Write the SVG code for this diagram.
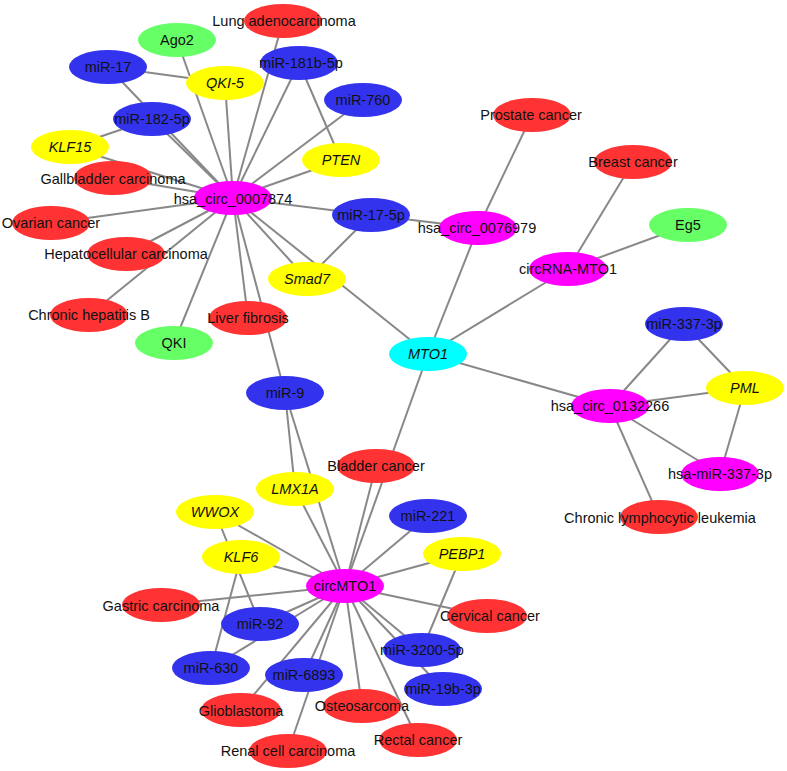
<svg xmlns="http://www.w3.org/2000/svg" width="787" height="771" viewBox="0 0 787 771">
<style>
.e{stroke:#888;stroke-width:2;fill:none}
ellipse{stroke:none}
.r{fill:#FF3333}.b{fill:#3333EE}.y{fill:#FFFF00}.g{fill:#66FF66}.m{fill:#FF00FF}.c{fill:#00FFFF}
text{font-family:"Liberation Sans",Arial,sans-serif;font-size:14.5px;fill:#111;text-anchor:middle}
.i{font-style:italic}
</style>
<rect width="787" height="771" fill="#fff"/>
<g id="edges" class="e">
<line x1="233" y1="198" x2="283" y2="21"/>
<line x1="233" y1="198" x2="177" y2="40"/>
<line x1="233" y1="198" x2="108" y2="67"/>
<line x1="108" y1="67" x2="225" y2="83"/>
<line x1="233" y1="198" x2="225" y2="83"/>
<line x1="233" y1="198" x2="299" y2="63"/>
<line x1="299" y1="63" x2="341" y2="160"/>
<line x1="233" y1="198" x2="363" y2="100"/>
<line x1="233" y1="198" x2="341" y2="160"/>
<line x1="233" y1="198" x2="152" y2="119"/>
<line x1="70" y1="147" x2="152" y2="119"/>
<line x1="233" y1="198" x2="70" y2="147"/>
<line x1="233" y1="198" x2="113" y2="178"/>
<line x1="233" y1="198" x2="51" y2="223"/>
<line x1="233" y1="198" x2="126" y2="254"/>
<line x1="233" y1="198" x2="89" y2="315"/>
<line x1="233" y1="198" x2="174" y2="343"/>
<line x1="233" y1="198" x2="248" y2="318"/>
<line x1="233" y1="198" x2="285" y2="393"/>
<line x1="233" y1="198" x2="307" y2="279"/>
<line x1="233" y1="198" x2="428" y2="354"/>
<line x1="233" y1="198" x2="371" y2="215"/>
<line x1="371" y1="215" x2="307" y2="279"/>
<line x1="371" y1="215" x2="478" y2="228"/>
<line x1="478" y1="228" x2="532" y2="115"/>
<line x1="478" y1="228" x2="428" y2="354"/>
<line x1="568" y1="269" x2="633" y2="162"/>
<line x1="568" y1="269" x2="688" y2="225"/>
<line x1="568" y1="269" x2="428" y2="354"/>
<line x1="428" y1="354" x2="610" y2="406"/>
<line x1="428" y1="354" x2="345" y2="586"/>
<line x1="610" y1="406" x2="684" y2="324"/>
<line x1="610" y1="406" x2="745" y2="388"/>
<line x1="610" y1="406" x2="720" y2="474"/>
<line x1="610" y1="406" x2="659" y2="517"/>
<line x1="684" y1="324" x2="745" y2="388"/>
<line x1="745" y1="388" x2="720" y2="474"/>
<line x1="285" y1="393" x2="295" y2="489"/>
<line x1="285" y1="393" x2="345" y2="586"/>
<line x1="295" y1="489" x2="345" y2="586"/>
<line x1="376" y1="466" x2="345" y2="586"/>
<line x1="215" y1="512" x2="345" y2="586"/>
<line x1="215" y1="512" x2="260" y2="624"/>
<line x1="241" y1="557" x2="211" y2="668"/>
<line x1="241" y1="557" x2="345" y2="586"/>
<line x1="428" y1="516" x2="345" y2="586"/>
<line x1="462" y1="554" x2="345" y2="586"/>
<line x1="462" y1="554" x2="422" y2="650"/>
<line x1="161" y1="605" x2="345" y2="586"/>
<line x1="260" y1="624" x2="345" y2="586"/>
<line x1="211" y1="668" x2="345" y2="586"/>
<line x1="241" y1="710" x2="345" y2="586"/>
<line x1="304" y1="675" x2="345" y2="586"/>
<line x1="288" y1="751" x2="345" y2="586"/>
<line x1="362" y1="706" x2="345" y2="586"/>
<line x1="418" y1="740" x2="345" y2="586"/>
<line x1="422" y1="650" x2="345" y2="586"/>
<line x1="443" y1="689" x2="345" y2="586"/>
<line x1="487" y1="616" x2="345" y2="586"/>
</g>
<g id="n_lung"><ellipse class="r" cx="283" cy="21" rx="39" ry="17"/><text x="284" y="26">Lung adenocarcinoma</text></g>
<g id="n_ago2"><ellipse class="g" cx="177" cy="40" rx="39" ry="17"/><text x="177" y="45">Ago2</text></g>
<g id="n_mir17"><ellipse class="b" cx="108" cy="67" rx="39" ry="17"/><text x="108" y="72">miR-17</text></g>
<g id="n_qki5"><ellipse class="y" cx="225" cy="83" rx="39" ry="17"/><text class="i" x="225" y="88">QKI-5</text></g>
<g id="n_mir181"><ellipse class="b" cx="299" cy="63" rx="39" ry="17"/><text x="301" y="68">miR-181b-5p</text></g>
<g id="n_mir760"><ellipse class="b" cx="363" cy="100" rx="39" ry="17"/><text x="363" y="105">miR-760</text></g>
<g id="n_mir182"><ellipse class="b" cx="152" cy="119" rx="39" ry="17"/><text x="152" y="124">miR-182-5p</text></g>
<g id="n_klf15"><ellipse class="y" cx="70" cy="147" rx="39" ry="17"/><text class="i" x="70" y="152">KLF15</text></g>
<g id="n_pten"><ellipse class="y" cx="341" cy="160" rx="39" ry="17"/><text class="i" x="341" y="165">PTEN</text></g>
<g id="n_gall"><ellipse class="r" cx="113" cy="178" rx="39" ry="17"/><text x="113" y="184">Gallbladder carcinoma</text></g>
<g id="n_hub1"><ellipse class="m" cx="233" cy="198" rx="39" ry="17"/><text x="233" y="204">hsa_circ_0007874</text></g>
<g id="n_mir175p"><ellipse class="b" cx="371" cy="215" rx="39" ry="17"/><text x="371" y="220">miR-17-5p</text></g>
<g id="n_ovarian"><ellipse class="r" cx="51" cy="223" rx="39" ry="17"/><text x="51" y="228">Ovarian cancer</text></g>
<g id="n_hepato"><ellipse class="r" cx="126" cy="254" rx="39" ry="17"/><text x="126" y="259">Hepatocellular carcinoma</text></g>
<g id="n_chb"><ellipse class="r" cx="89" cy="315" rx="39" ry="17"/><text x="89" y="320">Chronic hepatitis B</text></g>
<g id="n_qki"><ellipse class="g" cx="174" cy="343" rx="39" ry="17"/><text x="174" y="348">QKI</text></g>
<g id="n_liver"><ellipse class="r" cx="248" cy="318" rx="39" ry="17"/><text x="248" y="323">Liver fibrosis</text></g>
<g id="n_smad7"><ellipse class="y" cx="307" cy="279" rx="39" ry="17"/><text class="i" x="307" y="284">Smad7</text></g>
<g id="n_mir9"><ellipse class="b" cx="285" cy="393" rx="39" ry="17"/><text x="285" y="398">miR-9</text></g>
<g id="n_mto1"><ellipse class="c" cx="428" cy="354" rx="39" ry="17"/><text class="i" x="428" y="359">MTO1</text></g>
<g id="n_c0076979"><ellipse class="m" cx="478" cy="228" rx="39" ry="17"/><text x="477" y="233">hsa_circ_0076979</text></g>
<g id="n_prostate"><ellipse class="r" cx="532" cy="115" rx="39" ry="17"/><text x="531" y="120">Prostate cancer</text></g>
<g id="n_breast"><ellipse class="r" cx="633" cy="162" rx="39" ry="17"/><text x="633" y="167">Breast cancer</text></g>
<g id="n_eg5"><ellipse class="g" cx="688" cy="225" rx="39" ry="17"/><text x="688" y="230">Eg5</text></g>
<g id="n_circrna"><ellipse class="m" cx="568" cy="269" rx="39" ry="17"/><text x="568" y="274">circRNA-MTO1</text></g>
<g id="n_mir337"><ellipse class="b" cx="684" cy="324" rx="39" ry="17"/><text x="684" y="329">miR-337-3p</text></g>
<g id="n_pml"><ellipse class="y" cx="745" cy="388" rx="39" ry="17"/><text class="i" x="745" y="393">PML</text></g>
<g id="n_c0132266"><ellipse class="m" cx="610" cy="406" rx="39" ry="17"/><text x="610" y="411">hsa_circ_0132266</text></g>
<g id="n_hsamir337"><ellipse class="m" cx="720" cy="474" rx="39" ry="17"/><text x="720" y="479">hsa-miR-337-3p</text></g>
<g id="n_cll"><ellipse class="r" cx="659" cy="517" rx="39" ry="17"/><text x="660" y="523">Chronic lymphocytic leukemia</text></g>
<g id="n_bladder"><ellipse class="r" cx="376" cy="466" rx="39" ry="17"/><text x="376" y="471">Bladder cancer</text></g>
<g id="n_lmx1a"><ellipse class="y" cx="295" cy="489" rx="39" ry="17"/><text class="i" x="295" y="494">LMX1A</text></g>
<g id="n_wwox"><ellipse class="y" cx="215" cy="512" rx="39" ry="17"/><text class="i" x="215" y="517">WWOX</text></g>
<g id="n_mir221"><ellipse class="b" cx="428" cy="516" rx="39" ry="17"/><text x="428" y="521">miR-221</text></g>
<g id="n_klf6"><ellipse class="y" cx="241" cy="557" rx="39" ry="17"/><text class="i" x="241" y="562">KLF6</text></g>
<g id="n_pebp1"><ellipse class="y" cx="462" cy="554" rx="39" ry="17"/><text class="i" x="462" y="559">PEBP1</text></g>
<g id="n_circmto1"><ellipse class="m" cx="345" cy="586" rx="39" ry="17"/><text x="345" y="591">circMTO1</text></g>
<g id="n_gastric"><ellipse class="r" cx="161" cy="605" rx="39" ry="17"/><text x="161" y="611">Gastric carcinoma</text></g>
<g id="n_mir92"><ellipse class="b" cx="260" cy="624" rx="39" ry="17"/><text x="260" y="629">miR-92</text></g>
<g id="n_cervical"><ellipse class="r" cx="487" cy="616" rx="40" ry="17"/><text x="490" y="621">Cervical cancer</text></g>
<g id="n_mir3200"><ellipse class="b" cx="422" cy="650" rx="39" ry="17"/><text x="422" y="655">miR-3200-5p</text></g>
<g id="n_mir630"><ellipse class="b" cx="211" cy="668" rx="39" ry="17"/><text x="211" y="673">miR-630</text></g>
<g id="n_mir6893"><ellipse class="b" cx="304" cy="675" rx="39" ry="17"/><text x="304" y="680">miR-6893</text></g>
<g id="n_mir19b"><ellipse class="b" cx="443" cy="689" rx="39" ry="17"/><text x="443" y="694">miR-19b-3p</text></g>
<g id="n_glio"><ellipse class="r" cx="241" cy="710" rx="40" ry="17"/><text x="241" y="716">Glioblastoma</text></g>
<g id="n_osteo"><ellipse class="r" cx="362" cy="706" rx="39" ry="17"/><text x="362" y="711">Osteosarcoma</text></g>
<g id="n_rectal"><ellipse class="r" cx="418" cy="740" rx="39" ry="17"/><text x="418" y="745">Rectal cancer</text></g>
<g id="n_renal"><ellipse class="r" cx="288" cy="751" rx="39" ry="17"/><text x="288" y="756">Renal cell carcinoma</text></g>
</svg>
